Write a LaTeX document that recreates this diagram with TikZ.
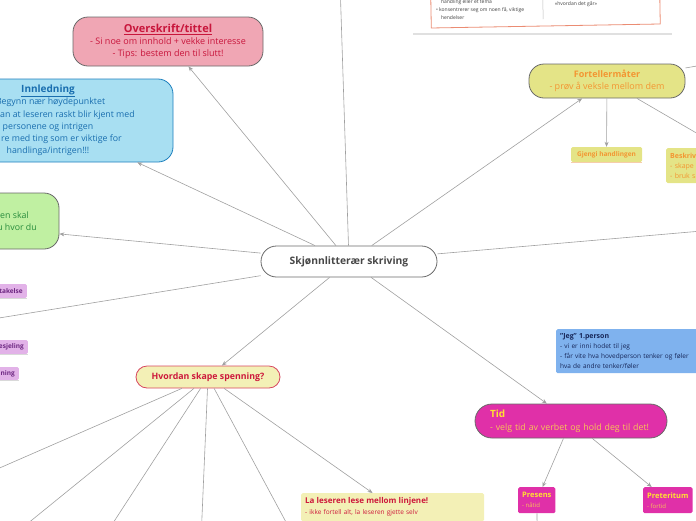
\documentclass[tikz,border=0pt]{standalone}
\usepackage{fontspec}
\setmainfont{Open Sans}
\usepackage{tikz}
\usetikzlibrary{arrows.meta,positioning,calc}

\definecolor{mapGrey}{RGB}{160,160,160}
\definecolor{edgeGrey}{RGB}{105,105,105}
\definecolor{titleRose}{RGB}{240,166,180}
\definecolor{titleRed}{RGB}{200,22,60}
\definecolor{introBlue}{RGB}{168,223,242}
\definecolor{introEdge}{RGB}{30,128,190}
\definecolor{introText}{RGB}{25,110,175}
\definecolor{leafGreen}{RGB}{192,240,162}
\definecolor{leafText}{RGB}{40,140,60}
\definecolor{narrYellow}{RGB}{228,228,135}
\definecolor{narrOrange}{RGB}{243,150,50}
\definecolor{tensionFill}{RGB}{243,240,182}
\definecolor{tensionEdge}{RGB}{215,70,95}
\definecolor{tensionText}{RGB}{205,25,60}
\definecolor{timeMagenta}{RGB}{224,48,168}
\definecolor{timeYellow}{RGB}{255,225,50}
\definecolor{timeSub}{RGB}{247,196,88}
\definecolor{firstBlue}{RGB}{127,178,238}
\definecolor{firstText}{RGB}{22,38,88}
\definecolor{lilacFill}{RGB}{226,178,232}
\definecolor{lilacText}{RGB}{110,40,130}
\definecolor{noteEdge}{RGB}{235,140,115}
\definecolor{peachLine}{RGB}{246,205,170}

\tikzset{
  link/.style={draw=mapGrey, line width=0.6pt},
  tolink/.style={link, -{Stealth[length=5pt,width=4pt]}},
  topic/.style={draw=edgeGrey, line width=0.8pt, rounded corners=14pt, align=center, inner sep=0pt},
  tagbox/.style={rounded corners=1.5pt, inner xsep=4pt, inner ysep=0pt, font=\bfseries\fontsize{6.5}{9}\selectfont},
  leafbox/.style={anchor=north west, rounded corners=1.5pt, align=left, inner xsep=4pt},
}

\begin{document}
\begin{tikzpicture}[x=1pt, y=-1pt]
  \useasboundingbox (0,0) rectangle (696,520);
  \clip (0,0) rectangle (696,520);

  % note cut off at the top
  \begin{scope}[rotate around={1:(545,10)}]
    \draw[noteEdge, fill=white, line width=0.8pt] (431,-30) rectangle (660,26);
    \draw[mapGrey!70, line width=0.5pt] (543,-30) -- (543,19);
    \node[anchor=north west, align=left, inner sep=0pt, font=\fontsize{5}{8}\selectfont, text=black!75] (noteLeft) at (436,-2.5)
      {\hspace*{5pt}handling eller et tema\\• konsentrerer seg om noen få, viktige\\\hspace*{5pt}hendelser};
    \node[anchor=north west, align=left, inner sep=0pt, font=\fontsize{5}{8}\selectfont, text=black!75] (noteRight) at (550,-6.5)
      {• får gjerne en åpen slutt, vi vet ikke\\\hspace*{5pt}«hvordan det går»};
  \end{scope}
  \draw[black!12, line width=1.2pt] (413,34) -- (672,34);

  % main topic
  \node[topic, fill=white, minimum width=176, minimum height=31, rounded corners=15.5pt,
        font=\bfseries\fontsize{10.3}{12}\selectfont, text=black!72] (skriving) at (349,261.5) {Skjønnlitterær skriving};

  % first level
  \node[topic, fill=titleRose, text=titleRed, minimum width=190, minimum height=49, rounded corners=15pt,
        font=\fontsize{9}{12}\selectfont] (overskrift) at (168,41.5)
    {{\bfseries\fontsize{11}{13}\selectfont\underline{Overskrift/tittel}}\\- Si noe om innhold + vekke interesse\\- Tips: bestem den til slutt!};
  \node[topic, fill=introBlue, draw=introEdge, text=introText, minimum width=250, minimum height=83, rounded corners=15pt,
        font=\fontsize{8.8}{12.2}\selectfont] (innledning) at (48,120.5)
    {{\bfseries\fontsize{10}{12}\selectfont\underline{Innledning}}\\- Begynn nær høydepunktet\\\hspace*{39pt}an at leseren raskt blir kjent med\\personene og intrigen\\\hspace*{27pt}re med ting som er viktige for\\handlinga/intrigen!!!};
  \node[topic, fill=leafGreen, text=leafText, minimum width=272, minimum height=56, rounded corners=15pt,
        font=\fontsize{8.8}{12}\selectfont] (sted) at (-77,221)
    {\hspace*{183pt}en skal\\\hspace*{188pt}u hvor du};
  \node[topic, fill=narrYellow, text=narrOrange, minimum width=156, minimum height=34, rounded corners=15pt,
        font=\fontsize{9}{12.5}\selectfont] (fortellermater) at (607,81)
    {{\bfseries Fortellermåter}\\- prøv å veksle mellom dem};
  \node[topic, fill=tensionFill, draw=tensionEdge, text=tensionText, minimum width=144, minimum height=22, rounded corners=11pt,
        font=\bfseries\fontsize{8.8}{10}\selectfont] (spenning) at (208,377) {Hvordan skape spenning?};
  \node[topic, fill=timeMagenta, text=timeYellow, minimum width=192, minimum height=34, rounded corners=17pt,
        align=left, text width=162, font=\fontsize{8.8}{13}\selectfont] (tid) at (571,421)
    {{\bfseries\fontsize{10}{12}\selectfont Tid}\\\textcolor{timeSub}{- velg tid av verbet og hold deg til det!}};

  % small tags
  \node[tagbox, fill=lilacFill, text=lilacText, anchor=east, minimum height=14] (tagTakelse) at (27,291) {takelse};
  \node[tagbox, fill=lilacFill, text=lilacText, anchor=east, minimum height=14] (tagEsjeling) at (28,347) {esjeling};
  \node[tagbox, fill=lilacFill, text=lilacText, anchor=east, minimum height=13] (tagNing) at (19,373.5) {ning};
  \foreach \t in {tagTakelse,tagEsjeling,tagNing}
    \draw[black!15, line width=0.8pt] (\t.south west) -- (\t.south east);

  \node[tagbox, fill=narrYellow, text=narrOrange, minimum width=71, minimum height=15] (gjengi) at (606.5,154.5) {Gjengi handlingen};
  \draw[peachLine, line width=1pt] (gjengi.south west) -- (gjengi.south east);
  \node[leafbox, fill=narrYellow, text=narrOrange, minimum height=35, text width=104,
        font=\fontsize{7}{9.8}\selectfont] (beskriv) at (666,148) {{\bfseries Beskriv}\\- skape l\\- bruk sa};

  \node[leafbox, fill=firstBlue, text=firstText, minimum height=44, text width=170,
        font=\fontsize{6.5}{9.8}\selectfont] (jeg) at (556,329)
    {{\bfseries\fontsize{7}{9}\selectfont "Jeg" 1.person}\\- vi er inni hodet til jeg\\- får vite hva hovedperson tenker og føler\\hva de andre tenker/føler};

  \node[leafbox, fill=tensionFill, text=tensionText, minimum height=28, text width=175,
        font=\fontsize{6.5}{11}\selectfont] (linjene) at (301,493)
    {{\bfseries\fontsize{8}{10}\selectfont La leseren lese mellom linjene!}\\- ikke fortell alt, la leseren gjette selv};

  \node[leafbox, fill=timeMagenta, text=timeYellow, minimum height=26, font=\fontsize{6}{10}\selectfont] (presens) at (518,487)
    {{\bfseries\fontsize{7.5}{9}\selectfont Presens}\\\textcolor{timeSub}{- nåtid}};
  \node[leafbox, fill=timeMagenta, text=timeYellow, minimum height=26, font=\fontsize{6}{10}\selectfont] (preteritum) at (643,487)
    {{\bfseries\fontsize{7.5}{9}\selectfont Preteritum}\\\textcolor{timeSub}{- fortid}};

  % ends of branches outside the picture
  \coordinate (hubTop) at (338,-80);
  \coordinate (hubLeft) at (-100,334);
  \coordinate (hubRight) at (800,222.5);
  \coordinate (hubFortelling) at (800,48.8);
  \coordinate (hubPresens) at (538,600);
  \coordinate (spA) at (-60,494);
  \coordinate (spB) at (-21,563);
  \coordinate (spC) at (87,563);
  \coordinate (spD) at (200,563);
  \coordinate (spE) at (308,563);

  % connectors
  \draw[link] (skriving) -- (hubTop);
  \draw[link] (skriving) -- (hubLeft);
  \draw[link] (skriving) -- (hubRight);
  \draw[tolink] (skriving) -- (overskrift);
  \draw[tolink] (skriving) -- (innledning);
  \draw[tolink] (skriving) -- (sted);
  \draw[tolink] (skriving) -- (fortellermater);
  \draw[tolink] (skriving) -- (spenning);
  \draw[tolink] (skriving) -- (tid);

  \draw[link] (fortellermater) -- (hubFortelling);
  \draw[tolink] (fortellermater) -- (gjengi);
  \draw[tolink] (fortellermater) -- (beskriv.north);

  \foreach \c in {spA,spB,spC,spD,spE}
    \draw[link] (spenning) -- (\c);
  \draw[tolink] (spenning) -- (linjene);

  \draw[tolink] (tid) -- (presens);
  \draw[tolink] (tid) -- (preteritum);
  \draw[link] (presens) -- (hubPresens);
\end{tikzpicture}
\end{document}
